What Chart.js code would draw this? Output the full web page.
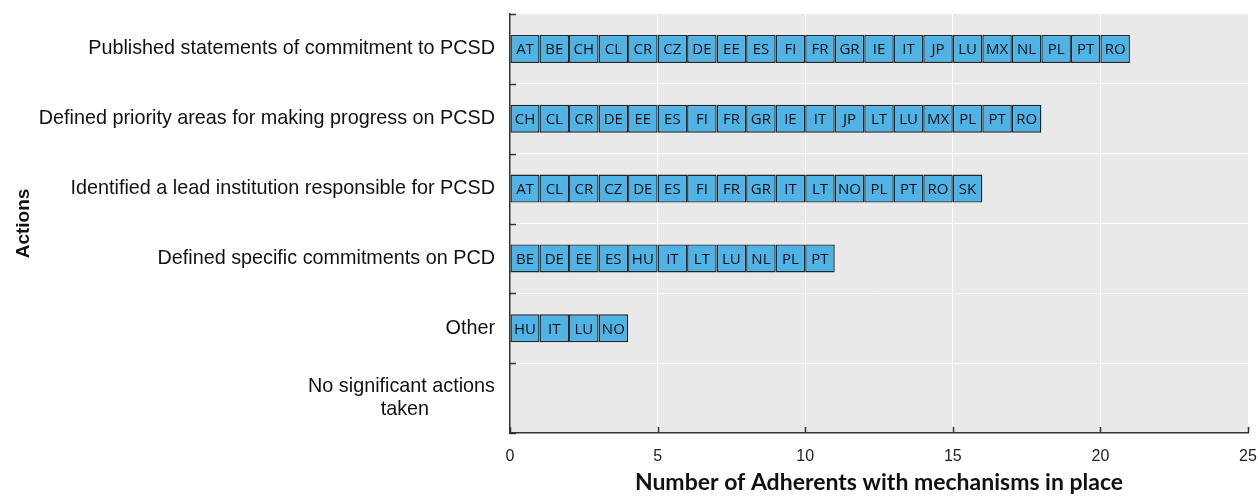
<!DOCTYPE html>
<html>
<head>
<meta charset="utf-8">
<script src="https://cdn.jsdelivr.net/npm/chart.js@4.4.1/dist/chart.umd.min.js"></script>
<style>
  html, body { margin: 0; padding: 0; background: #ffffff; }
  #wrap { width: 1258px; height: 496px; }
</style>
</head>
<body>
<div id="wrap"><canvas id="actionsChart" width="1258" height="496"></canvas></div>
<script>
// Categories (top to bottom)
const actions = [
    'Published statements of commitment to PCSD',
    'Defined priority areas for making progress on PCSD',
    'Identified a lead institution responsible for PCSD',
    'Defined specific commitments on PCD',
    'Other',
    ['No significant actions', 'taken            ']
];

// Adherents with each mechanism in place
const publishedStatements = ['AT', 'BE', 'CH', 'CL', 'CR', 'CZ', 'DE', 'EE', 'ES', 'FI', 'FR', 'GR', 'IE', 'IT', 'JP', 'LU', 'MX', 'NL', 'PL', 'PT', 'RO'];
const priorityAreas = ['CH', 'CL', 'CR', 'DE', 'EE', 'ES', 'FI', 'FR', 'GR', 'IE', 'IT', 'JP', 'LT', 'LU', 'MX', 'PL', 'PT', 'RO'];
const leadInstitution = ['AT', 'CL', 'CR', 'CZ', 'DE', 'ES', 'FI', 'FR', 'GR', 'IT', 'LT', 'NO', 'PL', 'PT', 'RO', 'SK'];
const specificCommitments = ['BE', 'DE', 'EE', 'ES', 'HU', 'IT', 'LT', 'LU', 'NL', 'PL', 'PT'];
const otherActions = ['HU', 'IT', 'LU', 'NO'];
const noActions = [];

const adherentsByAction = [publishedStatements, priorityAreas, leadInstitution, specificCommitments, otherActions, noActions];

// x axis ticks
const xTicks = [0, 5, 10, 15, 20, 25];

const narrowFont = '"Liberation Sans Narrow", "Arial Narrow", "Liberation Sans", Arial, sans-serif';

// one stacked dataset per position in the row, each segment counts one adherent
let maxLen = Math.max(...adherentsByAction.map(a => a.length));
let datasets = [];
for (let p = 0; p < maxLen; p++) {
    datasets.push({
        label: 'pos' + p,
        data: adherentsByAction.map(a => (p < a.length ? 1 : null)),
        codes: adherentsByAction.map(a => a[p] || ''),
        backgroundColor: '#4fb3e6',
        borderColor: '#1c262c',
        borderWidth: 1.4,
        borderSkipped: false,
        categoryPercentage: 1,
        barPercentage: 0.4
    });
}

/**
 * Grey plot background
 */
const plotBackground = {
    id: 'plotBackground',
    beforeDraw(chart) {
        const a = chart.chartArea;
        const c = chart.ctx;
        c.save();
        c.fillStyle = '#e9e9e9';
        c.fillRect(a.left, a.top, a.right - a.left, a.bottom - a.top);
        c.restore();
    }
};

/**
 * Country code inside each segment
 */
const segmentLabels = {
    id: 'segmentLabels',
    afterDatasetsDraw(chart) {
        const c = chart.ctx;
        c.save();
        c.font = '15px "Open Sans", sans-serif';
        c.fillStyle = '#111111';
        c.textAlign = 'center';
        c.textBaseline = 'middle';
        chart.data.datasets.forEach((ds, i) => {
            chart.getDatasetMeta(i).data.forEach((bar, j) => {
                if (ds.data[j] == null) return;
                c.fillText(ds.codes[j], (bar.x + bar.base) / 2, bar.y + 1);
            });
        });
        c.restore();
    }
};

/**
 * Short inward tick marks on both axes
 */
const innerTicks = {
    id: 'innerTicks',
    afterDraw(chart) {
        const c = chart.ctx;
        const a = chart.chartArea;
        const xs = chart.scales.x;
        const ys = chart.scales.y;
        c.save();
        c.strokeStyle = '#333333';
        c.lineWidth = 1.5;
        c.beginPath();
        xTicks.forEach(v => {
            const px = Math.round(xs.getPixelForValue(v)) + 0.5;
            c.moveTo(px, a.bottom);
            c.lineTo(px, a.bottom - 6);
        });
        for (let i = 0; i <= actions.length; i++) {
            const py = Math.round(ys.getPixelForValue(i - 0.5)) + 0.5;
            c.moveTo(a.left, py);
            c.lineTo(a.left + 6, py);
        }
        c.stroke();
        c.restore();
    }
};

let ctx = document.getElementById('actionsChart').getContext('2d');

let actionsChart = new Chart(ctx, {
    type: 'bar',
    data: {
        labels: actions,
        datasets: datasets
    },
    options: {
        indexAxis: 'y',
        responsive: false,
        animation: false,
        layout: { padding: { top: 14, right: 10, left: 0, bottom: 0 } },
        plugins: {
            legend: { display: false },
            tooltip: { enabled: false }
        },
        scales: {
            x: {
                stacked: true,
                min: 0,
                max: 25,
                afterBuildTicks: scale => { scale.ticks = xTicks.map(v => ({ value: v })); },
                afterFit: scale => {
                    scale.height = 63;
                    scale.paddingLeft = 0;
                    scale.paddingRight = 0;
                },
                grid: {
                    color: ctx => (ctx.tick && (ctx.tick.value === 0 || ctx.tick.value === 25) ? 'rgba(0,0,0,0)' : '#ffffff'),
                    lineWidth: 1,
                    drawTicks: false
                },
                border: { display: true, color: '#333333', width: 1.5 },
                ticks: {
                    padding: 14,
                    color: '#222222',
                    font: { family: narrowFont, size: 16 }
                },
                title: {
                    display: true,
                    text: 'Number of Adherents with mechanisms in place',
                    color: '#111111',
                    font: { family: 'Lato, "Open Sans", sans-serif', size: 23, weight: 'bold' },
                    padding: { top: 0, bottom: 0 }
                }
            },
            y: {
                stacked: true,
                afterFit: scale => {
                    scale.width = 510;
                    scale.paddingTop = 0;
                    scale.paddingBottom = 0;
                },
                grid: {
                    offset: true,
                    color: '#ffffff',
                    lineWidth: 1,
                    drawTicks: false
                },
                border: { display: true, color: '#333333', width: 1.5 },
                ticks: {
                    padding: 15,
                    color: '#111111',
                    font: { family: narrowFont, size: 19.8 }
                },
                title: {
                    display: true,
                    text: 'Actions',
                    color: '#111111',
                    font: { family: '"Liberation Sans", Arial, sans-serif', size: 19, weight: 'bold' },
                    padding: { top: 12, bottom: 0 }
                }
            }
        }
    },
    plugins: [plotBackground, segmentLabels, innerTicks]
});
</script>
</body>
</html>
